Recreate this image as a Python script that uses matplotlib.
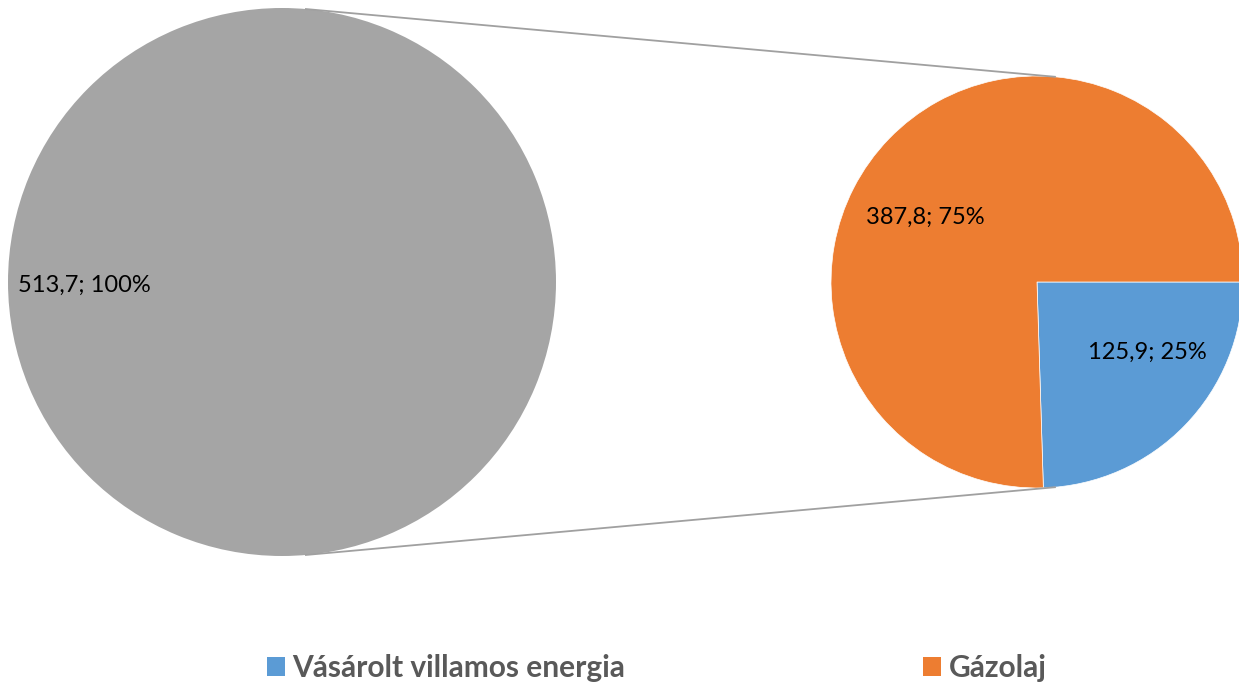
import numpy as np
import matplotlib.pyplot as plt
from matplotlib.patches import Patch

plt.rcParams['font.family'] = ['Lato', 'DejaVu Sans']

# data
total_value = 513.7
categories = ["Vásárolt villamos energia", "Gázolaj"]
values = [125.9, 387.8]
colors = ["#5b9bd5", "#ed7d31"]
grey = "#a5a5a5"


def fmt(v, tot):
    return "{:.1f}".format(v).replace(".", ",") + "; {:.0%}".format(v / tot)


fig = plt.figure(figsize=(12.39, 6.86), dpi=100)
ax = fig.add_axes([0, 0, 1, 1])

# left circle (whole)
c1, r1 = (282, 404), 274
ax.pie([total_value], colors=[grey], radius=r1, center=c1,
       wedgeprops=dict(linewidth=0))

# right pie (breakdown)
c2, r2 = (1037, 404), 206
ax.pie(values, colors=colors, radius=r2, center=c2, startangle=0,
       counterclock=False, wedgeprops=dict(edgecolor="white", linewidth=0.5))

ax.set_xlim(0, 1239)
ax.set_ylim(0, 686)
ax.set_aspect("equal")
ax.axis("off")

# connector lines
a = np.deg2rad(85)
for s in (1, -1):
    ax.plot([c1[0] + r1 * np.cos(a), c2[0] + r2 * np.cos(a)],
            [c1[1] + s * r1 * np.sin(a), c2[1] + s * r2 * np.sin(a)],
            color="#a0a0a0", lw=1.3)

# data labels
ax.text(18, c1[1] - 3, fmt(total_value, total_value), fontsize=17,
        va="center", ha="left", color="black")
tot = sum(values)
ax.text(c2[0] + 110, c2[1] - 70, fmt(values[0], tot), fontsize=17,
        va="center", ha="center", color="black")
ax.text(c2[0] - 112, c2[1] + 65, fmt(values[1], tot), fontsize=17,
        va="center", ha="center", color="black")

handles = [Patch(facecolor=c, edgecolor="none") for c in colors]
leg = fig.legend(handles, categories, loc="center", bbox_to_anchor=(0.53, 0.026),
                 ncol=2, frameon=False, columnspacing=10, handlelength=0.6,
                 handleheight=0.6, handletextpad=0.25,
                 prop=dict(size=21.5, weight="bold"))
for t in leg.get_texts():
    t.set_color("#595959")

fig.savefig("out.png", dpi=100)
